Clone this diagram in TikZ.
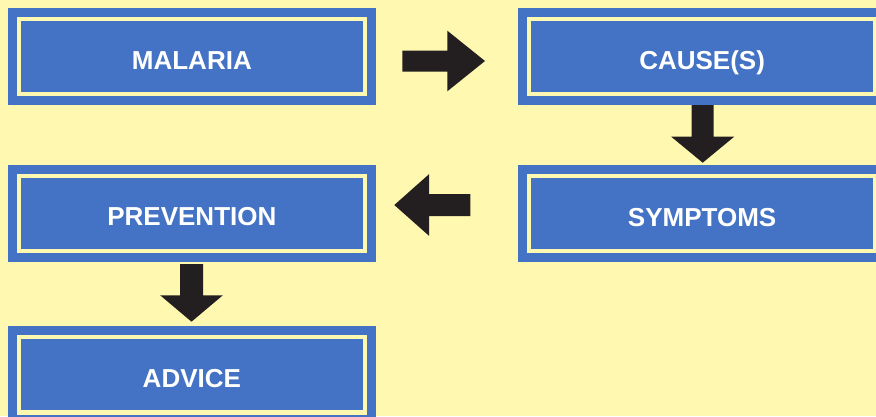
\documentclass[tikz,border=0pt]{standalone}
\usepackage{fontspec}
\setmainfont{Liberation Sans}
\definecolor{bgyel}{RGB}{255,248,176}
\definecolor{boxblue}{RGB}{68,114,196}
\definecolor{arrowc}{RGB}{35,31,32}
\tikzset{
  box/.style={fill=boxblue, draw=bgyel, line width=4.3pt,
    preaction={draw=boxblue, line width=21.7pt},
    minimum width=346pt, minimum height=75.3pt, inner sep=0pt, outer sep=0pt,
    text=white, font=\bfseries\fontsize{26}{30}\selectfont,
    text height=25pt, text depth=0pt},
  blockarrow/.style={fill=arrowc, draw=none}
}
\newcommand{\barrow}[6]{% start, angle, shaft len, shaft half, head len, head half
  \begin{scope}[shift={#1}, rotate=#2]
    \fill[blockarrow] (0,-#4) -- (#3,-#4) -- (#3,-#6) -- ({#3+#5},0) -- (#3,#6) -- (#3,#4) -- (0,#4) -- cycle;
  \end{scope}}
\begin{document}
\begin{tikzpicture}[x=1pt,y=-1pt]
\useasboundingbox (0,0) rectangle (876,416);
\clip (0,0) rectangle (876,416);
\fill[bgyel] (0,0) rectangle (876,416);
\node[box] (mal) at (191.85,56.5) {MALARIA};
\node[box] (cause) at (702.15,56.5) {CAUSE(S)};
\node[box] (sym) at (702.15,213.6) {SYMPTOMS};
\node[box] (prev) at (191.85,213.4) {PREVENTION};
\node[box] (adv) at (191.85,374.8) {ADVICE};
\coordinate (a1) at (402.3,61);
\coordinate (a2) at (702.7,105);
\coordinate (a3) at (470.3,205);
\coordinate (a4) at (191.5,264);
\barrow{(a1)}{0}{45}{10.5}{37.7}{30.3}
\barrow{(a2)}{-90}{31.7}{11}{26}{31.5}
\barrow{(a3)}{180}{41.3}{11}{34.7}{30.8}
\barrow{(a4)}{-90}{31.3}{11.5}{26.4}{31.3}
\end{tikzpicture}
\end{document}
